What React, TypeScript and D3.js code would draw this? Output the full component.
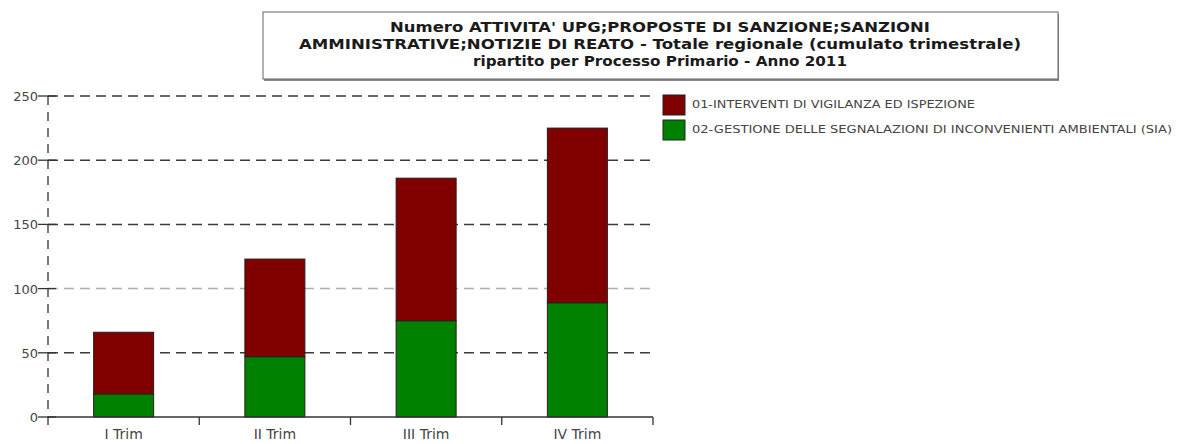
import React from 'react';
import * as d3 from 'd3';

const categories = ['I Trim', 'II Trim', 'III Trim', 'IV Trim'];
const seriesNames = [
  '01-INTERVENTI DI VIGILANZA ED ISPEZIONE',
  '02-GESTIONE DELLE SEGNALAZIONI DI INCONVENIENTI AMBIENTALI (SIA)',
];
const vigilanza = [48, 76, 111, 136];
const segnalazioni = [18, 47, 75, 89];
const yTicks = [0, 50, 100, 150, 200, 250];
const titleLines = [
  "Numero ATTIVITA' UPG;PROPOSTE DI SANZIONE;SANZIONI",
  'AMMINISTRATIVE;NOTIZIE DI REATO - Totale regionale (cumulato trimestrale)',
  'ripartito per Processo Primario - Anno 2011',
];

const W = 1197, H = 444;
const colour = { vig: '#800000', seg: '#008000' };

const App = () => {
  const left = 48, right = 653, top = 96, bottom = 417;
  const x = d3.scaleBand<string>().domain(categories).range([left, right]).paddingInner(0).paddingOuter(0);
  const y = d3.scaleLinear().domain([0, 250]).range([bottom, top]);
  const barW = 60;

  const rows = categories.map((c, i) => ({ cat: c, seg: segnalazioni[i], vig: vigilanza[i] }));
  const stacked = d3.stack<any>().keys(['seg', 'vig'])(rows);

  const titleWidths = [540, 722, 374];
  const font = '"DejaVu Sans", Verdana, sans-serif';

  return (
    <svg width={W} height={H} style={{ position: 'absolute', left: 0, top: 0, background: '#fff' }} fontFamily={font}>
      {/* title box */}
      <rect x={264} y={14} width={795} height={67} fill="#888" />
      <rect x={263} y={12} width={795} height={67} fill="#fff" stroke="#666" strokeWidth={1} />
      {titleLines.map((t, i) => (
        <text key={i} x={660} y={32 + i * 17} textAnchor="middle" fontSize={14} fontWeight="bold" fill="#1a1a1a"
          textLength={titleWidths[i]} lengthAdjust="spacingAndGlyphs">{t}</text>
      ))}

      {/* grid */}
      {yTicks.filter(t => t > 0).map(t => (
        <line key={t} x1={left} x2={right} y1={y(t)} y2={y(t)}
          stroke={t === 100 ? '#b0b0b0' : '#3a3a3a'} strokeWidth={1.5} strokeDasharray="10,6" />
      ))}

      {/* bars */}
      {stacked.map((s, si) => (
        <g key={si}>
          {s.map((d, i) => (
            <rect key={i} x={(x(categories[i]) as number) + x.bandwidth() / 2 - barW / 2}
              y={y(d[1])} width={barW} height={y(d[0]) - y(d[1])}
              fill={si === 0 ? colour.seg : colour.vig} stroke="#2a1a1a" strokeWidth={1} />
          ))}
        </g>
      ))}

      {/* y axis */}
      <line x1={left} x2={left} y1={top} y2={bottom + 10} stroke="#333" strokeWidth={1.3} strokeDasharray="9,7" />
      {yTicks.map(t => (
        <g key={t}>
          <line x1={left - 10} x2={left + 8} y1={y(t)} y2={y(t)} stroke="#333" strokeWidth={1.3} />
          <text x={left - 10} y={y(t) + 5} textAnchor="end" fontSize={13} fill="#444">{t}</text>
        </g>
      ))}

      {/* x axis */}
      <line x1={left} x2={right} y1={bottom} y2={bottom} stroke="#333" strokeWidth={1.3} />
      {categories.map((c, i) => (
        <g key={c}>
          <line x1={(x(c) as number) + x.bandwidth()} x2={(x(c) as number) + x.bandwidth()} y1={bottom} y2={bottom + 8} stroke="#333" strokeWidth={1.3} />
          <text x={(x(c) as number) + x.bandwidth() / 2} y={439} textAnchor="middle" fontSize={14} fill="#444">{c}</text>
        </g>
      ))}

      {/* legend */}
      {seriesNames.map((n, i) => (
        <g key={n}>
          <rect x={663} y={95 + i * 25} width={22} height={20} fill={i === 0 ? colour.vig : colour.seg} stroke="#222" strokeWidth={1} />
          <text x={692} y={108 + i * 25} fontSize={11} fill="#444"
            textLength={i === 0 ? 283 : 480} lengthAdjust="spacingAndGlyphs">{n}</text>
        </g>
      ))}
    </svg>
  );
};

export default App;
